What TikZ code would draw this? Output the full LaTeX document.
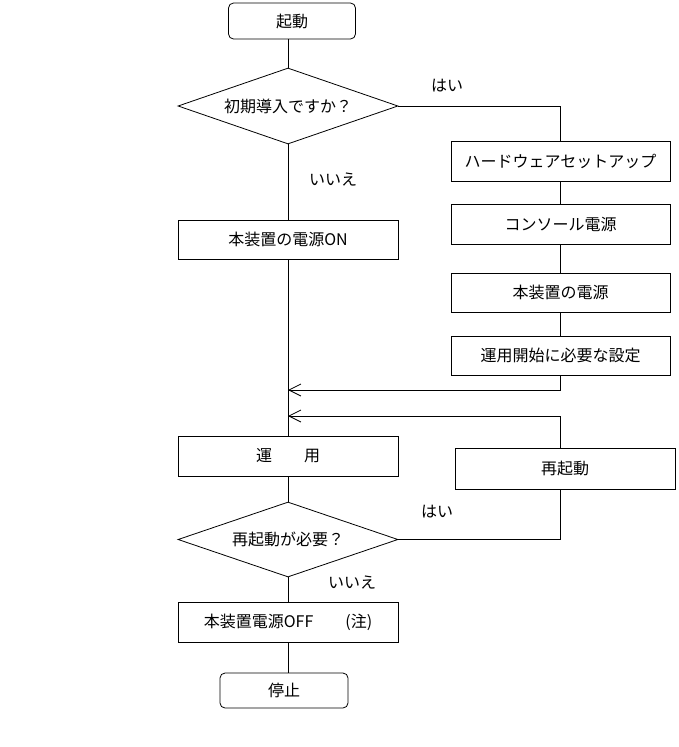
\documentclass[tikz,border=0pt]{standalone}
\usepackage{fontspec}
\setmainfont{Noto Sans CJK JP}
\usetikzlibrary{shapes.geometric,arrows.meta}
\begin{document}
\begin{tikzpicture}[x=1pt,y=-1pt,line width=0.8pt]
        \useasboundingbox (0,0) rectangle (678,747);
        \begin{scope}[every node/.style={draw,inner sep=0pt,minimum width=220pt,minimum height=40pt,font=\fontsize{16}{19}\selectfont}]
            \node[rounded corners=5pt,minimum width=127pt,minimum height=36pt] (start) at (292,21) {起動};
            \node[diamond,aspect=2.9,minimum height=76pt] (q1) at (288,106) {初期導入ですか？};
            \node[minimum width=219pt] (hw)  at (560.5,161) {ハードウェアセットアップ};
            \node[minimum width=219pt] (con) at (560.5,224) {コンソール電源};
            \node[minimum width=219pt,minimum height=39pt] (pw)  at (560.5,292.5) {本装置の電源};
            \node[minimum width=219pt,minimum height=39pt] (set) at (560.5,355.5) {運用開始に必要な設定};
            \node[minimum height=39pt] (on) at (288,239.5) {本装置の電源ON};
            \node (run) at (288,456) {運\hspace{2em}用};
            \node[minimum height=41pt] (reboot) at (565,468.5) {再起動};
            \node[diamond,aspect=2.9,minimum height=75pt] (q2) at (288,539.5) {再起動が必要？};
            \node (off) at (288,622) {本装置電源OFF\hspace{2em}(注)};
            \node[rounded corners=5pt,minimum width=128pt,minimum height=35pt] (stop) at (284,690.5) {停止};
        \end{scope}
        \begin{scope}[every node/.style={font=\fontsize{16}{19}\selectfont}]
            \node (yes1) at (447,86) {はい};
            \node (no1)  at (333,180) {いいえ};
            \node (yes2) at (437,512) {はい};
            \node (no2)  at (352,583) {いいえ};
        \end{scope}
        \coordinate (j1) at (288,390);
        \coordinate (j2) at (288,416);
        \begin{scope}[every edge/.style={draw}]
            \path
                (q1.north |- start.south) edge (q1)
                (hw) edge (con)
                (con) edge (pw)
                (pw) edge (set)
                (q1) edge (on)
                (on) edge (run)
                (run) edge (q2)
                (q2) edge (off)
                (off.south) edge (off.south |- stop.north);
        \end{scope}
        \draw (q1.east) -| (hw.north);
        \draw (q2.east) -| (reboot.south -| set.south);
        \begin{scope}[-{Straight Barb[length=12pt,width=12pt]}]
            \draw (set.south) |- (j1);
            \draw (reboot.north -| set.south) |- (j2);
        \end{scope}
    \end{tikzpicture}
\end{document}
